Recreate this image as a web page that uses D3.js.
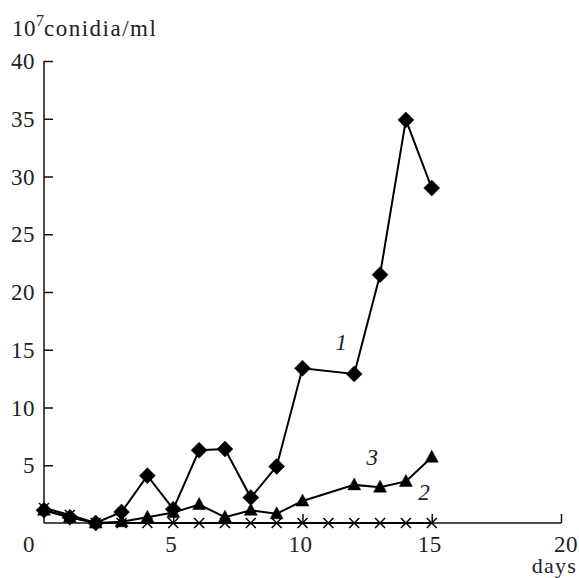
<!DOCTYPE html>
<html><head><meta charset="utf-8">
<script src="https://cdn.jsdelivr.net/npm/d3@7"></script>
<style>body{margin:0;background:#fff}svg{display:block}</style>
</head><body><div id="chart"></div>
<script>
const days1 = [0,1,2,3,4,5,6,7,8,9,10,12,13,14,15];
const series1 = [1.1,0.5,0,0.95,4.1,1.2,6.3,6.4,2.2,4.9,13.4,12.9,21.5,34.9,29];
const days2 = [0,1,2,3,4,5,6,7,8,9,10,11,12,13,14,15];
const series2 = [1.3,0.7,0,0,0,0,0,0,0,0,0,0,0,0,0,0];
const days3 = [0,1,2,3,4,5,6,7,8,9,10,12,13,14,15];
const series3 = [1.1,0.5,0,0.1,0.5,0.9,1.6,0.5,1.1,0.8,1.9,3.3,3.1,3.6,5.7];
const xTicks = [0,5,10,15,20];
const yTicks = [5,10,15,20,25,30,35,40];
const seriesLabels = [{t:"1",x:11.5,y:15},{t:"3",x:12.7,y:5},{t:"2",x:14.7,y:2}];

const W=579,H=578;
const FONT="Liberation Serif";
const svg=d3.select("#chart").append("svg").attr("width",W).attr("height",H);
const x=d3.scaleLinear().domain([0,20]).range([44,561]);
const y=d3.scaleLinear().domain([0,40]).range([523,61]);

function txt(sel){return sel.attr("font-family",FONT).attr("fill","#222").attr("font-size",23);}

// y axis
const yAxis=svg.append("g").attr("transform",`translate(${x(0)},0)`)
  .call(d3.axisRight(y).tickValues(yTicks).tickSize(9).tickFormat(""));
yAxis.select(".domain").attr("d",`M0,${y(0)}V${y(40)}`).attr("stroke","#111").attr("stroke-width",1.5);
yAxis.selectAll(".tick line").attr("stroke","#111").attr("stroke-width",1.5);
txt(svg.selectAll(".ylab").data(yTicks).enter().append("text"))
  .attr("x",35).attr("y",d=>y(d)+8).attr("text-anchor","end").attr("letter-spacing",0.5).text(d=>d);

// x axis
const xAxis=svg.append("g").attr("transform",`translate(0,${y(0)})`)
  .call(d3.axisTop(x).tickValues(xTicks.slice(1)).tickSize(9).tickFormat(""));
xAxis.select(".domain").attr("d",`M${x(0)},0H${x(20)}`).attr("stroke","#111").attr("stroke-width",1.5);
xAxis.selectAll(".tick line").attr("stroke","#111").attr("stroke-width",1.5);
txt(svg.selectAll(".xlab").data(xTicks).enter().append("text"))
  .attr("x",d=>d===0?x(d)-15:d===20?x(d)+5:x(d)-2).attr("y",552)
  .attr("text-anchor","middle").attr("letter-spacing",0.5).text(d=>d);
txt(svg.append("text")).attr("x",577).attr("y",573).attr("font-size",22).attr("text-anchor","end").attr("letter-spacing",1.2).text("days");

// y title
const tt=txt(svg.append("text")).attr("x",12).attr("y",36);
tt.append("tspan").attr("letter-spacing",0.5).text("10");
tt.append("tspan").attr("dy",-10).attr("font-size",16).text("7");
tt.append("tspan").attr("dy",10).attr("letter-spacing",1.5).text("conidia/ml");

const line=d3.line().x(d=>x(d[0])).y(d=>y(d[1]));
const symDiamond="M0,-8L8,0L0,8L-8,0Z";
const symTri="M0,-7L6.5,5L-6.5,5Z";
const symX="M-5,-5L5,5M-5,5L5,-5";
function drawSeries(days,vals,sym){
  const pts=days.map((d,i)=>[d,vals[i]]);
  svg.append("path").datum(pts).attr("d",line).attr("fill","none").attr("stroke","#000").attr("stroke-width",2);
  const isX=sym===symX;
  svg.selectAll(null).data(pts).enter().append("path")
    .attr("transform",d=>`translate(${x(d[0])},${y(d[1])})`)
    .attr("d",sym).attr("fill",isX?"none":"#000").attr("stroke","#000")
    .attr("stroke-width",isX?1.5:0.5);
}
drawSeries(days2,series2,symX);
drawSeries(days3,series3,symTri);
drawSeries(days1,series1,symDiamond);

txt(svg.selectAll(".slab").data(seriesLabels).enter().append("text"))
  .attr("x",d=>x(d.x)).attr("y",d=>y(d.y)).attr("text-anchor","middle")
  .attr("font-style","italic").text(d=>d.t);
</script></body></html>
